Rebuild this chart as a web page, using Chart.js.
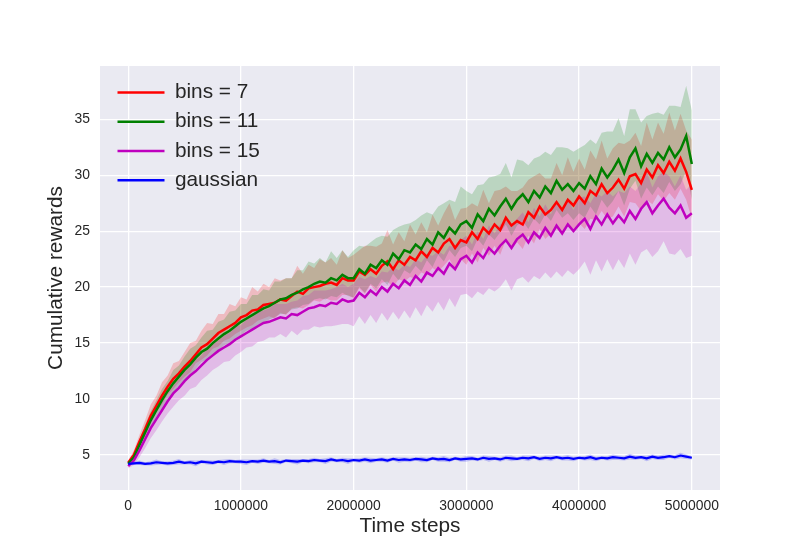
<!DOCTYPE html>
<html>
<head>
<meta charset="utf-8">
<script src="https://cdn.jsdelivr.net/npm/chart.js@4.4.1/dist/chart.umd.min.js"></script>
<style>
    html, body { margin: 0; padding: 0; background: #ffffff; }
    #wrap { width: 800px; height: 550px; }
</style>
</head>
<body>
<div id="wrap"><canvas id="rewardsChart"></canvas></div>
<script>
// time steps sampled every 50000
const steps = [
    0, 50000, 100000, 150000, 200000, 250000, 300000, 350000, 400000, 450000,
    500000, 550000, 600000, 650000, 700000, 750000, 800000, 850000, 900000, 950000,
    1000000, 1050000, 1100000, 1150000, 1200000, 1250000, 1300000, 1350000, 1400000, 1450000,
    1500000, 1550000, 1600000, 1650000, 1700000, 1750000, 1800000, 1850000, 1900000, 1950000,
    2000000, 2050000, 2100000, 2150000, 2200000, 2250000, 2300000, 2350000, 2400000, 2450000,
    2500000, 2550000, 2600000, 2650000, 2700000, 2750000, 2800000, 2850000, 2900000, 2950000,
    3000000, 3050000, 3100000, 3150000, 3200000, 3250000, 3300000, 3350000, 3400000, 3450000,
    3500000, 3550000, 3600000, 3650000, 3700000, 3750000, 3800000, 3850000, 3900000, 3950000,
    4000000, 4050000, 4100000, 4150000, 4200000, 4250000, 4300000, 4350000, 4400000, 4450000,
    4500000, 4550000, 4600000, 4650000, 4700000, 4750000, 4800000, 4850000, 4900000, 4950000,
    5000000
];

const xTicks = [0, 1000000, 2000000, 3000000, 4000000, 5000000];
const yTicks = [5, 10, 15, 20, 25, 30, 35];

// mean curves
const bins7 = [
    4.3, 5.0, 6.2, 7.3, 8.5, 9.4, 10.3, 11.1, 11.8, 12.3,
    12.9, 13.4, 14.0, 14.6, 14.9, 15.4, 15.9, 16.2, 16.5, 16.8,
    17.3, 17.5, 17.9, 18.0, 18.4, 18.5, 18.6, 18.9, 18.8, 19.2,
    19.6, 19.4, 19.9, 20.0, 20.1, 20.3, 20.4, 20.2, 20.8, 20.6,
    20.6, 21.4, 21.1, 21.6, 21.2, 21.9, 22.3, 21.6, 22.4, 22.0,
    22.7, 22.4, 23.2, 22.7, 23.5, 23.1, 23.9, 24.3, 23.5, 24.2,
    24.0, 24.9, 24.3, 25.3, 24.8, 25.6, 25.1, 26.2, 25.5, 25.9,
    25.6, 26.7, 26.2, 27.2, 26.5, 26.9, 27.6, 26.9, 27.8, 27.3,
    28.1, 27.5, 28.6, 28.2, 29.2, 28.4, 28.9, 29.6, 28.8, 29.9,
    30.1, 29.3, 30.5, 29.8, 30.9, 30.2, 31.2, 30.4, 31.5, 30.3,
    28.7
];
const bins11 = [
    4.2, 4.8, 5.9, 7.0, 8.1, 9.0, 9.9, 10.7, 11.4, 12.0,
    12.6, 13.1, 13.7, 14.2, 14.5, 15.0, 15.4, 15.8, 16.1, 16.5,
    16.9, 17.2, 17.5, 17.8, 18.1, 18.3, 18.6, 18.9, 19.0, 19.3,
    19.5, 19.8, 20.0, 20.3, 20.5, 20.4, 20.8, 20.6, 21.1, 20.8,
    20.8, 21.6, 21.2, 22.0, 21.7, 22.4, 22.0, 23.0, 22.5, 23.3,
    23.1, 23.8, 23.4, 24.3, 23.8, 24.9, 24.4, 25.3, 24.8, 25.6,
    25.9, 25.3, 26.5, 25.9, 27.0, 26.4, 27.2, 27.9, 27.0, 27.8,
    28.3, 27.6, 28.6, 28.0, 29.0, 28.4, 29.5, 28.7, 29.2, 28.6,
    29.3, 28.8, 29.9, 29.2, 30.6, 29.8, 30.5, 31.4, 30.2, 31.6,
    32.4, 30.8, 31.9, 31.1, 32.0, 31.4, 32.5, 31.6, 32.3, 33.5,
    31.0
];
const bins15 = [
    4.0, 4.5, 5.4, 6.4, 7.4, 8.2, 9.0, 9.8, 10.5, 11.0,
    11.6, 12.1, 12.5, 13.0, 13.5, 13.9, 14.3, 14.6, 14.9, 15.3,
    15.6, 15.9, 16.2, 16.5, 16.8, 16.9, 17.1, 17.3, 17.2, 17.6,
    17.5, 17.8, 18.1, 18.2, 18.4, 18.3, 18.6, 18.5, 18.9, 18.7,
    18.8, 19.5, 19.1, 19.7, 19.3, 20.0, 19.6, 20.3, 19.9, 20.6,
    20.2, 21.0, 20.5, 21.3, 21.0, 21.7, 21.2, 22.1, 21.6, 22.5,
    22.8, 22.2, 23.1, 22.6, 23.5, 23.0, 23.7, 24.2, 23.5, 24.3,
    24.7, 24.0, 24.9, 24.4, 25.3, 24.6, 25.5, 24.8, 25.6, 25.0,
    25.6, 26.1, 25.2, 26.3, 25.6, 26.5, 25.7, 26.4, 25.8, 26.8,
    26.1, 27.0, 27.6, 26.6, 27.3, 27.9, 27.1, 26.6, 27.3, 26.2,
    26.6
];
const gaussian = [
    4.2, 4.25, 4.3, 4.2, 4.25, 4.35, 4.3, 4.25, 4.3, 4.4,
    4.3, 4.35, 4.25, 4.4, 4.35, 4.3, 4.4, 4.35, 4.45, 4.4,
    4.4, 4.35, 4.45, 4.4, 4.5, 4.4, 4.45, 4.35, 4.5, 4.45,
    4.4, 4.5, 4.45, 4.55, 4.5, 4.45, 4.6, 4.5, 4.55, 4.45,
    4.55, 4.5, 4.6, 4.5, 4.55, 4.6, 4.5, 4.65, 4.55, 4.6,
    4.55, 4.65, 4.6, 4.55, 4.7, 4.6, 4.65, 4.55, 4.7, 4.6,
    4.65, 4.7, 4.6, 4.75, 4.65, 4.7, 4.6, 4.75, 4.7, 4.65,
    4.75, 4.7, 4.8, 4.65, 4.75, 4.7, 4.8, 4.7, 4.75, 4.65,
    4.75, 4.7, 4.8, 4.65, 4.75, 4.7, 4.8, 4.75, 4.7, 4.85,
    4.75, 4.8, 4.7, 4.85, 4.75, 4.8, 4.9, 4.8, 4.95, 4.85,
    4.75
];

// spread of the shaded band above / below each mean
const bins7Up = [
    0.2, 0.4, 0.6, 0.8, 1.0, 0.9, 1.2, 1.0, 1.4, 1.1,
    1.3, 1.6, 1.2, 1.5, 1.9, 1.3, 1.7, 1.4, 2.0, 1.5,
    1.8, 1.4, 2.1, 1.6, 1.9, 1.5, 2.2, 1.7, 2.0, 1.6,
    2.3, 1.8, 2.1, 1.7, 2.4, 1.9, 2.2, 1.8, 2.5, 2.0,
    2.3, 1.9, 2.6, 2.1, 2.4, 2.0, 2.8, 2.2, 2.5, 2.1,
    2.9, 2.3, 2.6, 2.2, 3.0, 2.4, 2.7, 3.2, 2.5, 2.8,
    3.1, 2.6, 2.9, 3.4, 2.7, 3.0, 3.6, 2.8, 3.1, 2.7,
    3.3, 2.9, 3.7, 3.0, 3.2, 2.8, 3.5, 3.1, 3.8, 3.0,
    3.4, 3.0, 3.6, 3.2, 3.9, 3.1, 3.5, 3.3, 4.0, 3.2,
    3.7, 3.3, 4.2, 3.4, 3.8, 3.5, 4.4, 3.6, 4.0, 3.7,
    4.5
];
const bins7Down = [
    0.2, 0.3, 0.5, 0.6, 0.7, 0.6, 0.8, 0.7, 0.9, 0.8,
    0.9, 1.0, 0.8, 1.1, 1.0, 0.9, 1.2, 1.0, 1.1, 1.0,
    1.2, 1.1, 1.3, 1.0, 1.2, 1.1, 1.4, 1.2, 1.3, 1.1,
    1.4, 1.3, 1.5, 1.2, 1.4, 1.3, 1.6, 1.4, 1.5, 1.3,
    1.6, 1.5, 1.7, 1.4, 1.6, 1.5, 1.8, 1.6, 1.7, 1.5,
    1.8, 1.7, 1.9, 1.6, 1.8, 1.7, 2.0, 1.8, 1.9, 1.7,
    2.0, 1.9, 2.1, 1.8, 2.0, 1.9, 2.2, 2.0, 2.1, 1.9,
    2.2, 2.1, 2.3, 2.0, 2.2, 2.1, 2.4, 2.2, 2.3, 2.1,
    2.4, 2.3, 2.5, 2.2, 2.4, 2.3, 2.6, 2.4, 2.5, 2.3,
    2.6, 2.5, 2.7, 2.4, 2.6, 2.5, 2.8, 2.6, 2.7, 2.5,
    2.6
];
const bins11Up = [
    0.2, 0.3, 0.5, 0.7, 0.8, 0.9, 1.0, 0.9, 1.2, 1.0,
    1.2, 1.4, 1.1, 1.3, 1.6, 1.2, 1.5, 1.3, 1.7, 1.4,
    1.6, 1.3, 1.8, 1.5, 1.7, 1.4, 1.9, 1.6, 1.8, 1.5,
    2.0, 1.7, 2.3, 1.8, 2.1, 1.8, 2.4, 2.0, 2.2, 1.9,
    2.5, 2.1, 2.4, 2.0, 2.7, 2.2, 2.5, 2.1, 2.9, 2.3,
    2.6, 2.2, 3.0, 2.4, 2.7, 2.3, 3.1, 2.5, 2.8, 3.4,
    2.7, 3.0, 2.6, 3.3, 2.8, 3.5, 2.9, 3.2, 2.8, 3.6,
    3.0, 3.3, 2.9, 3.7, 3.1, 3.4, 3.0, 3.8, 3.2, 3.5,
    3.1, 3.9, 3.3, 3.6, 3.2, 4.1, 3.4, 3.7, 3.3, 4.3,
    3.5, 3.9, 3.4, 4.4, 3.6, 4.0, 3.7, 4.6, 3.8, 4.5,
    4.8
];
const bins11Down = [
    0.2, 0.3, 0.4, 0.5, 0.6, 0.6, 0.7, 0.7, 0.8, 0.8,
    0.9, 0.9, 1.0, 0.9, 1.0, 1.0, 1.1, 1.0, 1.1, 1.1,
    1.2, 1.1, 1.2, 1.2, 1.3, 1.2, 1.3, 1.3, 1.4, 1.3,
    1.4, 1.4, 1.5, 1.4, 1.5, 1.5, 1.6, 1.5, 1.6, 1.6,
    1.7, 1.6, 1.7, 1.7, 1.8, 1.7, 1.8, 1.8, 1.9, 1.8,
    1.9, 1.9, 2.0, 1.9, 2.0, 2.0, 2.1, 2.0, 2.1, 2.1,
    2.2, 2.1, 2.2, 2.2, 2.3, 2.2, 2.3, 2.3, 2.4, 2.3,
    2.4, 2.4, 2.5, 2.4, 2.5, 2.5, 2.6, 2.5, 2.6, 2.6,
    2.7, 2.6, 2.7, 2.7, 2.8, 2.7, 2.8, 2.8, 2.9, 2.8,
    2.9, 2.9, 3.0, 2.9, 3.0, 3.0, 3.1, 3.0, 3.1, 3.1,
    3.2
];
const bins15Up = [
    0.2, 0.3, 0.4, 0.5, 0.6, 0.6, 0.7, 0.8, 0.7, 0.8,
    0.9, 0.8, 1.0, 0.9, 1.0, 1.1, 0.9, 1.1, 1.0, 1.2,
    1.0, 1.2, 1.1, 1.3, 1.1, 1.2, 1.4, 1.2, 1.3, 1.1,
    1.3, 1.4, 1.2, 1.5, 1.3, 1.4, 1.2, 1.5, 1.4, 1.3,
    1.5, 1.4, 1.6, 1.3, 1.5, 1.4, 1.7, 1.5, 1.6, 1.4,
    1.6, 1.5, 1.7, 1.6, 1.8, 1.5, 1.7, 1.6, 1.9, 1.7,
    1.8, 1.6, 1.9, 1.7, 2.0, 1.8, 1.9, 1.7, 2.1, 1.8,
    2.0, 1.8, 2.2, 1.9, 2.1, 1.9, 2.3, 2.0, 2.2, 1.9,
    2.4, 2.0, 2.3, 2.1, 2.5, 2.1, 2.4, 2.2, 2.6, 2.2,
    2.5, 2.3, 2.7, 2.3, 2.6, 2.4, 2.8, 2.4, 2.7, 2.5,
    2.6
];
const bins15Down = [
    0.2, 0.4, 0.6, 0.8, 0.9, 1.0, 1.0, 1.1, 1.2, 1.1,
    1.3, 1.2, 1.4, 1.3, 1.4, 1.3, 1.4, 1.3, 1.5, 1.4,
    1.4, 1.3, 1.5, 1.4, 1.6, 1.4, 1.6, 1.5, 1.7, 1.5,
    1.8, 1.6, 1.9, 1.7, 2.0, 1.8, 2.1, 1.9, 2.2, 2.0,
    2.3, 2.1, 2.4, 2.2, 2.5, 2.3, 2.6, 2.5, 2.8, 2.7,
    3.0, 2.8, 3.1, 2.9, 3.2, 3.0, 3.3, 3.1, 3.4, 3.2,
    3.4, 3.2, 3.5, 3.3, 3.6, 3.4, 3.7, 3.5, 3.8, 3.6,
    3.8, 3.6, 3.9, 3.7, 4.0, 3.8, 4.1, 3.9, 4.1, 3.9,
    4.0, 3.8, 4.1, 3.9, 4.2, 4.0, 4.2, 3.9, 4.1, 3.8,
    4.1, 3.9, 4.2, 3.9, 4.1, 3.8, 4.1, 3.7, 3.9, 3.6,
    3.8
];
const gaussianSpread = [
    0.1, 0.15, 0.2, 0.15, 0.2, 0.25, 0.15, 0.2, 0.2, 0.25,
    0.15, 0.2, 0.25, 0.15, 0.2, 0.2, 0.15, 0.25, 0.2, 0.15,
    0.2, 0.25, 0.15, 0.2, 0.2, 0.15, 0.25, 0.2, 0.15, 0.2,
    0.25, 0.15, 0.2, 0.2, 0.15, 0.25, 0.2, 0.15, 0.2, 0.25,
    0.15, 0.2, 0.2, 0.25, 0.15, 0.2, 0.2, 0.15, 0.25, 0.2,
    0.2, 0.15, 0.25, 0.2, 0.15, 0.2, 0.25, 0.2, 0.15, 0.2,
    0.25, 0.2, 0.15, 0.2, 0.25, 0.15, 0.2, 0.2, 0.25, 0.15,
    0.2, 0.25, 0.15, 0.2, 0.2, 0.25, 0.15, 0.2, 0.25, 0.2,
    0.15, 0.2, 0.25, 0.2, 0.15, 0.2, 0.25, 0.2, 0.2, 0.25,
    0.2, 0.15, 0.25, 0.2, 0.2, 0.25, 0.15, 0.2, 0.25, 0.2,
    0.15
];

const TEXT_COLOR = "#262626";
Chart.defaults.font.family = "'Liberation Sans', Arial, sans-serif";

function toPoints(values) {
    return values.map((v, i) => ({ x: steps[i], y: v }));
}

function bandEdge(values, spread, sign) {
    return values.map((v, i) => ({ x: steps[i], y: v + sign * spread[i] }));
}

function meanLine(label, values, color, width, order) {
    return {
        label: label,
        data: toPoints(values),
        borderColor: color,
        backgroundColor: color,
        borderWidth: width,
        pointRadius: 0,
        tension: 0,
        fill: false,
        order: order
    };
}

function bandLine(data, fillTarget, fillColor, order) {
    return {
        isBand: true,
        data: data,
        borderColor: "rgba(0,0,0,0)",
        borderWidth: 0,
        pointRadius: 0,
        tension: 0,
        fill: fillTarget,
        backgroundColor: fillColor,
        order: order
    };
}

const datasets = [
    meanLine("bins = 7", bins7, "#ff0000", 2.5, 3),
    meanLine("bins = 11", bins11, "#008000", 2.5, 2),
    meanLine("bins = 15", bins15, "#bf00bf", 2.5, 1),
    meanLine("gaussian", gaussian, "#0000ff", 2.2, 0),
    // index 4..11: band edges, each upper edge fills down to its lower edge
    bandLine(bandEdge(bins7, bins7Down, -1), false, "rgba(0,0,0,0)", 13),
    bandLine(bandEdge(bins7, bins7Up, 1), 4, "rgba(255,0,0,0.2)", 13),
    bandLine(bandEdge(bins11, bins11Down, -1), false, "rgba(0,0,0,0)", 12),
    bandLine(bandEdge(bins11, bins11Up, 1), 6, "rgba(0,128,0,0.2)", 12),
    bandLine(bandEdge(bins15, bins15Down, -1), false, "rgba(0,0,0,0)", 11),
    bandLine(bandEdge(bins15, bins15Up, 1), 8, "rgba(191,0,191,0.2)", 11),
    bandLine(bandEdge(gaussian, gaussianSpread, -1), false, "rgba(0,0,0,0)", 10),
    bandLine(bandEdge(gaussian, gaussianSpread, 1), 10, "rgba(0,0,255,0.2)", 10)
];

// seaborn-like grey plot area
const plotBackground = {
    id: "plotBackground",
    beforeDraw(chart) {
        const { ctx, chartArea } = chart;
        ctx.save();
        ctx.fillStyle = "#eaeaf2";
        ctx.fillRect(chartArea.left, chartArea.top, chartArea.width, chartArea.height);
        ctx.restore();
    }
};

// the chartArea legend lands at the canvas top, so pin it to the plot's upper left
const legendInPlot = {
    id: "legendInPlot",
    afterLayout(chart) {
        const legend = chart.legend;
        if (!legend) return;
        const w = legend.width;
        const h = legend.height;
        legend.left = chart.chartArea.left + 9;
        legend.top = chart.chartArea.top + 7.5;
        legend.right = legend.left + w;
        legend.bottom = legend.top + h;
    }
};

const gridOptions = { color: "#ffffff", lineWidth: 1.3, drawTicks: false };

new Chart(document.getElementById("rewardsChart").getContext("2d"), {
    type: "line",
    data: { datasets: datasets },
    options: {
        animation: false,
        responsive: true,
        maintainAspectRatio: false,
        events: [],
        layout: { padding: { left: 0, right: 80, top: 66, bottom: 0 } },
        plugins: {
            tooltip: { enabled: false },
            legend: {
                position: "chartArea",
                align: "start",
                labels: {
                    filter: (item) => !datasets[item.datasetIndex].isBand,
                    sort: (a, b) => a.datasetIndex - b.datasetIndex,
                    generateLabels: (chart) =>
                        Chart.defaults.plugins.legend.labels.generateLabels(chart).map((item) =>
                            Object.assign(item, { fillStyle: item.strokeStyle, lineWidth: 0 })
                        ),
                    boxWidth: 47,
                    boxHeight: 2.5,
                    padding: 8.5,
                    color: TEXT_COLOR,
                    font: { size: 20.8 }
                }
            }
        },
        scales: {
            x: {
                type: "linear",
                min: -250000,
                max: 5250000,
                afterBuildTicks: (scale) => { scale.ticks = xTicks.map((v) => ({ value: v })); },
                afterFit: (scale) => { scale.height = 60; },
                grid: gridOptions,
                border: { display: false },
                ticks: {
                    color: TEXT_COLOR,
                    font: { size: 13.9 },
                    padding: 8,
                    maxRotation: 0,
                    callback: (v) => String(v)
                },
                title: {
                    display: true,
                    text: "Time steps",
                    color: TEXT_COLOR,
                    font: { size: 20.8 },
                    padding: { top: 0, bottom: 11.5 }
                }
            },
            y: {
                type: "linear",
                min: 1.87,
                max: 39.76,
                afterBuildTicks: (scale) => { scale.ticks = yTicks.map((v) => ({ value: v })); },
                afterFit: (scale) => { scale.width = 100; },
                grid: gridOptions,
                border: { display: false },
                ticks: {
                    color: TEXT_COLOR,
                    font: { size: 13.9 },
                    padding: 10,
                    callback: (v) => String(v)
                },
                title: {
                    display: true,
                    text: "Cumulative rewards",
                    color: TEXT_COLOR,
                    font: { size: 20.8 },
                    padding: { top: 44, bottom: 0 }
                }
            }
        }
    },
    plugins: [plotBackground, legendInPlot]
});
</script>
</body>
</html>
